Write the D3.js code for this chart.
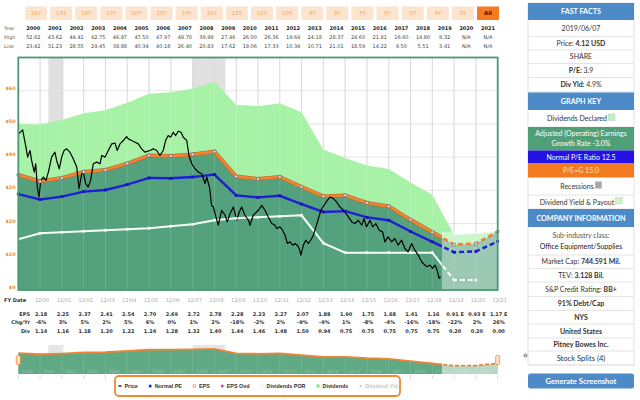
<!DOCTYPE html>
<html><head><meta charset="utf-8">
<script src="https://cdn.jsdelivr.net/npm/d3@7"></script>
<style>body{margin:0;background:#fff}svg{display:block}</style>
</head><body>
<svg id="c" width="640" height="400"></svg>
<script>
// ---------------- DATA ----------------
const tabs = ["20Y","19Y","18Y","17Y","16Y","15Y","14Y","13Y","12Y","11Y","10Y","9Y","8Y","7Y","6Y","5Y","4Y","3Y","All"];
const years = ["2000","2001","2002","2003","2004","2005","2006","2007","2008","2009","2010","2011","2012","2013","2014","2015","2016","2017","2018","2019","2020","2021"];
const highs = ["52.82","43.62","44.41","42.75","46.97","47.50","47.97","49.70","39.98","27.46","26.00","26.36","19.64","24.18","28.37","24.60","21.81","16.60","14.80","8.32","N/A","N/A"];
const lows  = ["23.42","31.23","28.55","29.45","38.88","40.34","40.18","26.40","20.83","17.62","19.06","17.33","10.34","10.71","21.01","18.59","14.22","9.50","5.51","3.41","N/A","N/A"];
const fyDates = ["12/00","12/01","12/02","12/03","12/04","12/05","12/06","12/07","12/08","12/09","12/10","12/11","12/12","12/13","12/14","12/15","12/16","12/17","12/18","12/19","12/20","12/21"];
const epsLabels = ["2.18","2.25","2.37","2.41","2.54","2.70","2.69","2.72","2.78","2.28","2.23","2.27","2.07","1.88","1.90","1.75","1.68","1.41","1.16","0.91 E","0.93 E","1.17 E"];
const chgLabels = ["-6%","3%","5%","2%","5%","6%","0%","1%","2%","-18%","-2%","2%","-9%","-9%","1%","-8%","-4%","-16%","-18%","-22%","2%","26%"];
const divLabels = ["1.14","1.16","1.18","1.20","1.22","1.24","1.28","1.32","1.40","1.44","1.46","1.48","1.50","0.94","0.75","0.75","0.75","0.75","0.75","0.20","0.20","0.00"];
// series at fiscal year ends 12/99 ... 12/21
const seriesT   = [2000,2001,2002,2003,2004,2005,2006,2007,2008,2009,2010,2011,2012,2013,2014,2015,2016,2017,2018,2019,2020,2021,2022];
const epsSeries = [2.31,2.18,2.25,2.37,2.41,2.54,2.70,2.69,2.72,2.78,2.28,2.23,2.27,2.07,1.88,1.90,1.75,1.68,1.41,1.16,0.91,0.93,1.17];
const divSeries = [1.02,1.14,1.16,1.18,1.20,1.22,1.24,1.28,1.32,1.40,1.44,1.46,1.48,1.50,0.94,0.75,0.75,0.75,0.75,0.75,0.20,0.20,0.00];
const peNormal = 12.5, peG = 15.0;
const todayT = 2019.44;
const recessions = [[2001.38,2002.07],[2008.0,2009.5]];
const priceT = [2000.03,2000.20,2000.35,2000.43,2000.54,2000.61,2000.73,2000.80,2000.87,2000.95,
2001.03,2001.15,2001.27,2001.38,2001.53,2001.68,2001.76,2001.88,2001.99,
2002.10,2002.22,2002.37,2002.52,2002.68,2002.79,2002.91,2002.98,
2003.09,2003.21,2003.32,2003.44,2003.60,2003.75,2003.83,2003.98,
2004.13,2004.29,2004.44,2004.54,2004.67,2004.82,2004.97,
2005.05,2005.20,2005.36,2005.51,2005.66,2005.81,
2006.04,2006.20,2006.35,2006.50,2006.65,2006.76,2006.88,2006.99,
2007.11,2007.22,2007.34,2007.47,2007.57,2007.73,2007.83,2007.96,
2008.11,2008.26,2008.42,2008.57,2008.65,2008.77,2008.83,2008.87,2008.95,
2009.07,2009.18,2009.33,2009.49,2009.59,2009.72,2009.87,
2010.02,2010.14,2010.25,2010.40,2010.56,2010.63,2010.78,
2011.01,2011.17,2011.32,2011.47,2011.63,2011.78,2011.86,
2012.01,2012.13,2012.24,2012.35,2012.47,2012.59,2012.70,2012.80,2012.89,2012.97,
2013.08,2013.19,2013.31,2013.42,2013.54,2013.66,2013.77,2013.89,
2014.03,2014.18,2014.30,2014.46,2014.61,2014.76,2014.92,
2015.04,2015.15,2015.30,2015.45,2015.60,2015.76,2015.86,2015.98,
2016.14,2016.26,2016.41,2016.56,2016.72,2016.82,2016.97,
2017.13,2017.28,2017.43,2017.59,2017.74,2017.89,
2018.05,2018.20,2018.35,2018.51,2018.66,2018.76,2018.89,
2019.01,2019.12,2019.22,2019.31,2019.37];
const priceV = [47.1,48.2,43.0,40.0,42,39,35.5,38,31,28,
33,34,33,35.5,40,41.5,39,36.5,40,
42,42.5,41.5,39.5,37,30.5,35,35.5,
32,31,33,38,38.5,38,40.5,40,
42,44,44.2,42,44,45,46.2,
45.5,45,44.5,44,42.5,41.5,
42,42.5,42,40.5,42,45,46.5,46,
47.5,46.5,47.8,47.5,46,45,40.5,38,
36.5,35.5,35,32,34,31,28,25.5,25,
22,19.5,24,22.5,20.5,23,25,
21,23.5,25,22.5,21,19.5,22.5,
24,25.5,24,22,20,19.5,18.5,
19,18,16.5,14,14.5,13.5,14,13.5,12.5,10.5,
13.5,15,14,15,16.5,19,21.5,24,
25.5,27,28,27.5,26.5,25,24,
23,22,20.5,20,21,19.5,21.5,19,
21,19,20,18,17.5,14.5,16,
14.5,15.5,13.5,15,12.5,11.5,
14,12,10.5,8.5,7.5,7,7.5,
6.5,7.5,6,3.5,4.1];
const yTicks = [0,10,20,30,40,50,60];
const legendItems = ["Price","Normal PE","EPS","EPS Ovd","Dividends POR","Dividends","Dividend Yld"];

// ---------------- SETUP ----------------
const svg = d3.select("#c");
const F = "DejaVu Sans, Verdana, sans-serif";
const L = "Lato, 'Open Sans', sans-serif";
const C = {dark:"#54a27d", light:"#a8f2a8", orange:"#ee8435", blue:"#1e1ed6", border:"#4a9a70"};
const x = d3.scaleLinear().domain([2000,2022]).range([18.3,497.7]);
const y = d3.scaleLinear().domain([0,70]).range([290,57.5]);
const pts = seriesT.map((t,i)=>({t, eps:epsSeries[i], div:divSeries[i]}));
const price = priceT.map((t,i)=>({t, v:priceV[i]}));
const X0 = x.range()[0], X1 = x.range()[1], Y0 = y.range()[0], Y1 = y.range()[1];

const defs = svg.append("defs");
defs.append("clipPath").attr("id","past").append("rect").attr("x",0).attr("y",0).attr("width",x(todayT)).attr("height",400);
defs.append("clipPath").attr("id","future").append("rect").attr("x",x(todayT)).attr("y",0).attr("width",640).attr("height",400);

// ---------------- TABS ----------------
const tx = d3.scalePoint().domain(tabs).range([36,488]);
const tg = svg.append("g");
tabs.forEach(t=>{
  const all = t==="All";
  tg.append("rect").attr("x",tx(t)-11).attr("y",6.5).attr("width",22).attr("height",13.5)
    .attr("fill", all?"#f47b20":"#fde4ce");
  tg.append("text").attr("x",tx(t)).attr("y",15.3).attr("text-anchor","middle")
    .attr("font-family",F).attr("font-size",5.4).attr("font-weight",all?"bold":"normal")
    .attr("fill", all?"#3a1800":"#f0a462").text(t);
});

// ---------------- TOP TABLE ----------------
const cx = d3.scalePoint().domain(years).range([33.3,488]);
const topRows = [["Year",years,30.3,true],["High",highs,39.3,false],["Low",lows,48.3,false]];
topRows.forEach(([lab,vals,yy,b])=>{
  svg.append("text").attr("x",4).attr("y",yy).attr("font-family",F).attr("font-size",5).attr("fill","#666").text(lab);
  vals.forEach((v,i)=>svg.append("text").attr("x",cx(years[i])).attr("y",yy).attr("text-anchor","middle")
    .attr("font-family",F).attr("font-size",5).attr("font-weight",b?"bold":"normal").attr("fill",b?"#222":"#444").text(v));
});

// ---------------- MAIN PLOT ----------------
const plot = svg.append("g");
plot.append("rect").attr("x",X0).attr("y",Y1).attr("width",X1-X0).attr("height",Y0-Y1).attr("fill","#fff");
recessions.forEach(r=>plot.append("rect").attr("x",x(r[0])).attr("y",Y1).attr("width",x(r[1])-x(r[0])).attr("height",Y0-Y1).attr("fill","#e0e0e0"));
yTicks.slice(1).forEach(v=>plot.append("line").attr("x1",X0).attr("x2",X1).attr("y1",y(v)).attr("y2",y(v)).attr("stroke","#e6e6e6"));
d3.range(2001,2022).forEach(t=>plot.append("line").attr("x1",x(t)).attr("x2",x(t)).attr("y1",Y1).attr("y2",Y0).attr("stroke","#d4d4d4"));

plot.append("path").datum(pts).attr("fill",C.light)
  .attr("d", d3.area().x(d=>x(d.t)).y0(Y0).y1(d=>y(peG*(d.eps+d.div))));
plot.append("path").datum(pts).attr("fill",C.dark)
  .attr("d", d3.area().x(d=>x(d.t)).y0(Y0).y1(d=>y(peG*d.eps)));
d3.range(2001,2022).forEach(t=>plot.append("line").attr("x1",x(t)).attr("x2",x(t)).attr("y1",Y1).attr("y2",Y0).attr("stroke","#fff").attr("stroke-opacity",0.13));

// forecast overlay
const fc = pts.filter(d=>d.t>todayT);
const fTop = y(d3.max(fc,d=>peG*(d.eps+d.div)));
plot.append("rect").attr("x",x(todayT)).attr("y",fTop).attr("width",X1-x(todayT)).attr("height",Y0-fTop).attr("fill","#fff").attr("opacity",0.42);

function seg(gen, data, color, w){
  plot.append("path").datum(data).attr("d",gen).attr("fill","none").attr("stroke",color).attr("stroke-width",w).attr("clip-path","url(#past)");
  plot.append("path").datum(data).attr("d",gen).attr("fill","none").attr("stroke",color).attr("stroke-width",w).attr("stroke-dasharray","5,3").attr("clip-path","url(#future)");
}
const whiteLine = d3.line().defined(d=>d.div>0).x(d=>x(d.t)).y(d=>y(peG*d.div));
seg(whiteLine, pts, "#f4fff4", 2);
const blueLine = d3.line().x(d=>x(d.t)).y(d=>y(peNormal*d.eps));
seg(blueLine, pts, C.blue, 2.4);
const orangeLine = d3.line().x(d=>x(d.t)).y(d=>y(peG*d.eps));
plot.append("path").datum(pts).attr("d",orangeLine).attr("fill","none").attr("stroke","#b8642a").attr("stroke-width",3.8).attr("clip-path","url(#past)");
seg(orangeLine, pts, C.orange, 2.8);

// price
plot.append("path").datum(price).attr("fill","none").attr("stroke","#000").attr("stroke-width",1.2)
  .attr("stroke-linejoin","round").attr("d", d3.line().x(d=>x(d.t)).y(d=>y(d.v)));

// markers
pts.filter(d=>d.div>0).forEach(d=>plot.append("rect").attr("x",x(d.t)-1.3).attr("y",y(peG*d.div)-1.3).attr("width",2.6).attr("height",2.6).attr("fill","#fff"));
pts.forEach(d=>plot.append("rect").attr("x",x(d.t)-1.4).attr("y",y(peNormal*d.eps)-1.4).attr("width",2.8).attr("height",2.8).attr("fill","#1414b8"));
pts.forEach(d=>plot.append("circle").attr("cx",x(d.t)).attr("cy",y(peG*d.eps)).attr("r",1.6).attr("fill","#e4e4e4").attr("stroke","#555").attr("stroke-width",0.6));

// border
svg.append("rect").attr("x",X0).attr("y",Y1).attr("width",X1-X0).attr("height",Y0-Y1).attr("fill","none").attr("stroke",C.border).attr("stroke-width",1.8);

// y labels
yTicks.forEach(v=>svg.append("text").attr("x",15.5).attr("y",y(v)-1).attr("text-anchor","end")
  .attr("font-family",F).attr("font-size",4.8).attr("font-weight","bold").attr("fill","#e0873a").text("$"+v));

// ---------------- BOTTOM TABLE ----------------
svg.append("text").attr("x",4).attr("y",302).attr("font-family",F).attr("font-size",5).attr("font-weight","bold").attr("fill","#333").text("FY Date");
fyDates.forEach((d,i)=>svg.append("text").attr("x",x(2001+i)+2).attr("y",302).attr("text-anchor","middle")
  .attr("font-family",F).attr("font-size",5).attr("fill","#aaa").text(d));
const botRows = [["EPS",epsLabels,315.8],["Chg/Yr",chgLabels,324.2],["Div",divLabels,332.6]];
botRows.forEach(([lab,vals,yy])=>{
  svg.append("text").attr("x",30).attr("y",yy).attr("text-anchor","end").attr("font-family",F).attr("font-size",5).attr("font-weight","bold").attr("fill","#333").text(lab);
  vals.forEach((v,i)=>svg.append("text").attr("x",x(2001+i)+1).attr("y",yy).attr("text-anchor","middle")
    .attr("font-family",F).attr("font-size",5).attr("font-weight","bold").attr("fill","#333").text(v));
});

// ---------------- NAVIGATOR ----------------
const ym = d3.scaleLinear().domain([0,48]).range([374,345]);
const nav = svg.append("g");
recessions.forEach(r=>nav.append("rect").attr("x",x(r[0])).attr("y",345).attr("width",x(r[1])-x(r[0])).attr("height",29).attr("fill","#e6e6e6"));
nav.append("path").datum(pts).attr("fill","#5fa984").attr("d",d3.area().x(d=>x(d.t)).y0(374).y1(d=>ym(peG*d.eps)));
nav.append("rect").attr("x",x(todayT)).attr("y",345).attr("width",X1-x(todayT)).attr("height",29).attr("fill","#fff").attr("opacity",0.55);
d3.range(2001,2022).forEach(t=>nav.append("line").attr("x1",x(t)).attr("x2",x(t)).attr("y1",345).attr("y2",374).attr("stroke","#fff").attr("stroke-opacity",0.12));
const navLine = d3.line().x(d=>x(d.t)).y(d=>ym(peG*d.eps));
nav.append("path").datum(pts).attr("d",navLine).attr("fill","none").attr("stroke",C.orange).attr("stroke-width",1.8).attr("clip-path","url(#past)");
nav.append("path").datum(pts).attr("d",navLine).attr("fill","none").attr("stroke",C.orange).attr("stroke-width",1.8).attr("stroke-dasharray","4,2").attr("clip-path","url(#future)");
years.forEach((yr,i)=>{
  const lab = +yr>=2019 ? "FY"+yr.slice(2) : yr;
  nav.append("text").attr("x",x(2000+i)+3).attr("y",372.5).attr("font-family",F).attr("font-size",4.6)
    .attr("fill","#fff").attr("fill-opacity",0.3).text(lab);
});
d3.range(2000,2023).forEach(t=>nav.append("line").attr("x1",x(t)).attr("x2",x(t)).attr("y1",375).attr("y2",379).attr("stroke","#d8d8d8"));
[2000,2022].forEach(t=>nav.append("rect").attr("x",x(t)-2).attr("y",355.5).attr("width",4).attr("height",9).attr("rx",1)
  .attr("fill","#fde3cc").attr("stroke","#f08a30").attr("stroke-width",0.8));

// ---------------- LEGEND ----------------
const lg = svg.append("g");
lg.append("rect").attr("x",115).attr("y",376).attr("width",285).attr("height",20).attr("rx",4)
  .attr("fill","#fff").attr("stroke","#f08a30").attr("stroke-width",1.8);
const markers = [
  g=>g.append("line").attr("x1",-1.5).attr("x2",1.5).attr("stroke","#000").attr("stroke-width",1.3),
  g=>g.append("circle").attr("r",1.5).attr("fill","#1e1ed6"),
  g=>g.append("circle").attr("r",1.5).attr("fill","#fff").attr("stroke","#e07828").attr("stroke-width",0.7),
  g=>g.append("circle").attr("r",1.5).attr("fill","#d03cd0"),
  g=>g.append("circle").attr("r",1.5).attr("fill","#f4f4f4"),
  g=>g.append("circle").attr("r",2).attr("fill","#9ae69a"),
  g=>g.append("circle").attr("r",1.3).attr("fill","#ccc")
];
let lx = 120;
legendItems.forEach((t,i)=>{
  const g = lg.append("g").attr("transform",`translate(${lx},386)`);
  markers[i](g);
  const txt = lg.append("text").attr("x",lx+4.5).attr("y",387.9).attr("font-family","Liberation Sans, Arial, sans-serif")
    .attr("font-size",5.4).attr("font-weight","bold").attr("fill", i===6?"#c8c8c8":"#333").text(t);
  lx += 4.5 + txt.node().getComputedTextLength() + 12.5;
});

// ---------------- RIGHT PANEL ----------------
const P = {x:528, w:106};
const pc = P.x + P.w/2;
const panel = svg.append("g");
panel.append("rect").attr("x",P.x).attr("y",3).attr("width",P.w).attr("height",362).attr("fill","#fff").attr("stroke","#e2e2e2");
const rows = [
  {y0:3,y1:20,hdr:true,parts:[["FAST FACTS",1]]},
  {y0:20,y1:36.5,parts:[["2019/06/07",0]]},
  {y0:36.5,y1:50,parts:[["Price: ",0],["4.12 USD",1]]},
  {y0:50,y1:63.5,parts:[["SHARE",0]]},
  {y0:63.5,y1:77.5,parts:[["P/E:",1],[" 3.9",0]]},
  {y0:77.5,y1:92,parts:[["Div Yld:",1],[" 4.9%",0]]},
  {y0:92.5,y1:110,hdr:true,parts:[["GRAPH KEY",1]]},
  {y0:110,y1:127,parts:[["Dividends Declared",0]],sq:"#b8f5b8"},
  {y0:127,y1:150.5,bg:"#4f9f79",col:"#fff",lines:["Adjusted (Operating) Earnings","Growth Rate -3.0%"]},
  {y0:150.5,y1:163.5,bg:"#2412e4",col:"#fff",parts:[["Normal P/E Ratio 12.5",0]]},
  {y0:163.5,y1:177.5,bg:"#f37b1f",col:"#ffe6c4",parts:[["P/E=G 15.0",0]]},
  {y0:177.5,y1:195,parts:[["Recessions",0]],sq:"#a8a8a8"},
  {y0:195,y1:209,parts:[["Dividend Yield & Payout",0]],sq:"#cdf5cd"},
  {y0:209,y1:227,hdr:true,parts:[["COMPANY INFORMATION",1]]},
  {y0:227,y1:255,lines:["Sub-industry class:","Office Equipment/Supplies"],lc:["#555","#222"]},
  {y0:255,y1:268.5,parts:[["Market Cap: ",0],["744.591 Mil.",1]]},
  {y0:268.5,y1:282,parts:[["TEV: ",0],["3.128 Bil.",1]]},
  {y0:282,y1:296.5,parts:[["S&P Credit Rating: ",0],["BB+",1]]},
  {y0:296.5,y1:310.5,parts:[["91% Debt/Cap",1]]},
  {y0:310.5,y1:324,parts:[["NYS",1]]},
  {y0:324,y1:338,parts:[["United States",1]]},
  {y0:338,y1:351,parts:[["Pitney Bowes Inc.",1]]},
  {y0:351,y1:365,parts:[["Stock Splits (4)",0]],big:true}
];
rows.forEach(r=>{
  const bg = r.hdr ? "#4d8ac8" : (r.bg||null);
  if(bg) panel.append("rect").attr("x",P.x).attr("y",r.y0).attr("width",P.w).attr("height",r.y1-r.y0).attr("fill",bg);
  else panel.append("line").attr("x1",P.x).attr("x2",P.x+P.w).attr("y1",r.y1).attr("y2",r.y1).attr("stroke","#e4e4e4");
  const col = r.hdr ? "#fff" : (r.col||"#333");
  const fs = r.hdr ? 7.2 : (r.big?7.6:7);
  const mid = (r.y0+r.y1)/2;
  if(r.lines){
    r.lines.forEach((ln,j)=>panel.append("text").attr("x",pc).attr("y",mid+2.5+(j-0.5)*(r.y1-r.y0)/2.4)
      .attr("text-anchor","middle").attr("font-family",L).attr("font-size",7).attr("fill",r.lc?r.lc[j]:col).text(ln));
    return;
  }
  const t = panel.append("text").attr("y",mid+2.5).attr("font-family",L).attr("font-size",fs).attr("fill",col)
    .attr("font-weight", r.hdr?"bold":"normal");
  r.parts.forEach(p=>t.append("tspan").attr("font-weight",p[1]?"bold":"normal").text(p[0]));
  const tw = t.node().getComputedTextLength();
  const sqw = r.sq ? 8 : 0;
  const sx = pc - (tw+sqw)/2;
  t.attr("x",sx);
  if(r.sq){
    panel.append("rect").attr("x",sx+tw+1.5).attr("y",mid-4.5).attr("width",6.5).attr("height",6.5)
      .attr("fill",r.sq).attr("stroke","#bdbdbd").attr("stroke-width",0.4);
  }
});
panel.append("circle").attr("cx",525.5).attr("cy",355.5).attr("r",2).attr("fill","#888");
panel.append("text").attr("x",525.5).attr("y",357).attr("text-anchor","middle").attr("font-family",F).attr("font-size",3.5).attr("font-weight","bold").attr("fill","#fff").text("?");
panel.append("rect").attr("x",P.x).attr("y",373.5).attr("width",P.w).attr("height",15).attr("rx",2.5).attr("fill","#4d8ac8");
panel.append("text").attr("x",pc).attr("y",383.6).attr("text-anchor","middle").attr("font-family",L).attr("font-size",7.6)
  .attr("font-weight","bold").attr("fill","#fff").text("Generate Screenshot");
</script>
</body></html>
